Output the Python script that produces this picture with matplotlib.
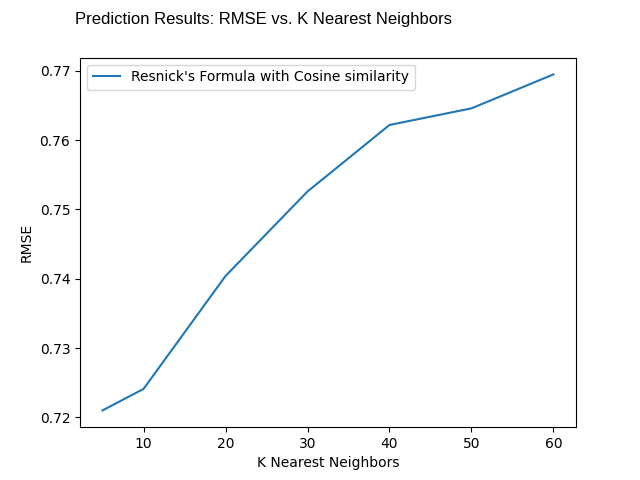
import matplotlib
matplotlib.use("Agg")
import matplotlib.pyplot as plt

k = [5, 10, 20, 30, 40, 50, 60]
rmse = [0.7210, 0.7241, 0.7404, 0.7526, 0.7622, 0.7646, 0.7695]

fig, ax = plt.subplots(figsize=(6.4, 4.8), dpi=100)
ax.plot(k, rmse, label="Resnick's Formula with Cosine similarity")
ax.set_xlabel("K Nearest Neighbors")
ax.set_ylabel("RMSE")
ax.legend(loc="upper left")
fig.suptitle("Prediction Results: RMSE vs. K Nearest Neighbors", x=0.117, y=0.975, ha="left", fontsize=12, family=["Liberation Sans", "DejaVu Sans"])
fig.savefig("out.png")
